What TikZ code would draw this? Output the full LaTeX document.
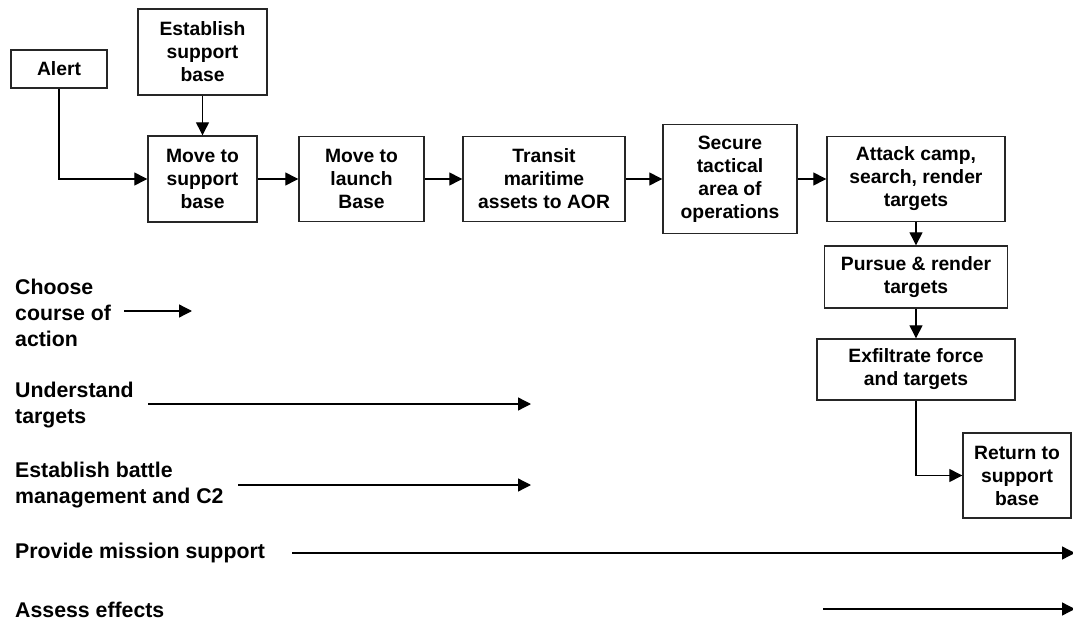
\documentclass[tikz,border=0pt]{standalone}
\usepackage{fontspec}
\setmainfont{Liberation Sans}
\usetikzlibrary{arrows.meta}
\tikzset{
  box/.style={draw=black!85, line width=1.4pt, inner sep=0pt, align=center,
    font=\fontsize{19.3}{23}\selectfont\bfseries},
  lab/.style={anchor=west, inner sep=0pt, align=left,
    font=\fontsize{21.3}{26}\selectfont\bfseries},
  conn/.style={line width=1.3pt, -{Triangle[length=13pt,width=13pt]}},
}
\begin{document}
\begin{tikzpicture}[x=1pt,y=-1pt]
\useasboundingbox (0,0) rectangle (1073,620);
% boxes
\node[box, minimum width=96pt, minimum height=38pt] (alert) at (59,69) {Alert};
\node[box, minimum width=129pt, minimum height=86pt] (est) at (202.5,52) {Establish\\support\\base};
\node[box, minimum width=109pt, minimum height=86pt] (mvs) at (202.5,179) {Move to\\support\\base};
\node[box, minimum width=125pt, minimum height=85pt] (mvl) at (361.5,179) {Move to\\launch\\Base};
\node[box, minimum width=162pt, minimum height=85pt] (tra) at (544,179) {Transit\\maritime\\assets to AOR};
\node[box, minimum width=134pt, minimum height=109pt] (sec) at (730,179) {Secure\\tactical\\area of\\operations};
\node[box, minimum width=178pt, minimum height=85pt] (att) at (916,179) {Attack camp,\\search, render\\targets};
\node[box, minimum width=183pt, minimum height=62pt] (pur) at (916,277) {Pursue \& render\\targets};
\node[box, minimum width=198pt, minimum height=61pt] (exf) at (916,369.5) {Exfiltrate force\\and targets};
\node[box, minimum width=108pt, minimum height=85pt] (ret) at (1017,475.5) {Return to\\support\\base};
% connectors
\draw[conn] (alert.south) |- (mvs.west);
\draw[conn] (est.south) -- (mvs.north);
\draw[conn] (mvs.east) -- (mvl.west);
\draw[conn] (mvl.east) -- (tra.west);
\draw[conn] (tra.east) -- (sec.west);
\draw[conn] (sec.east) -- (att.west);
\draw[conn] (att.south) -- (pur.north);
\draw[conn] (pur.south) -- (exf.north);
\draw[conn] (exf.south) |- (ret.west);
% left labels
\node[lab] (choose) at (15,312.5) {Choose\\course of\\action};
\node[lab] (under) at (15,405) {Understand\\targets};
\node[lab] (battle) at (15,485.5) {Establish battle\\management and C2};
\node[lab] (prov) at (15,553) {Provide mission support};
\node[lab] (assess) at (15,610) {Assess effects};
% label arrows
\coordinate (c1) at (124,311); \coordinate (c2) at (192,311);
\coordinate (u1) at (148,404); \coordinate (u2) at (531,404);
\coordinate (b1) at (238,485); \coordinate (b2) at (531,485);
\coordinate (p1) at (292,553); \coordinate (p2) at (1075,553);
\coordinate (a1) at (823,609); \coordinate (a2) at (1075,609);
\draw[conn] (c1) -- (c2);
\draw[conn] (u1) -- (u2);
\draw[conn] (b1) -- (b2);
\draw[conn] (p1) -- (p2);
\draw[conn] (a1) -- (a2);
\end{tikzpicture}
\end{document}
